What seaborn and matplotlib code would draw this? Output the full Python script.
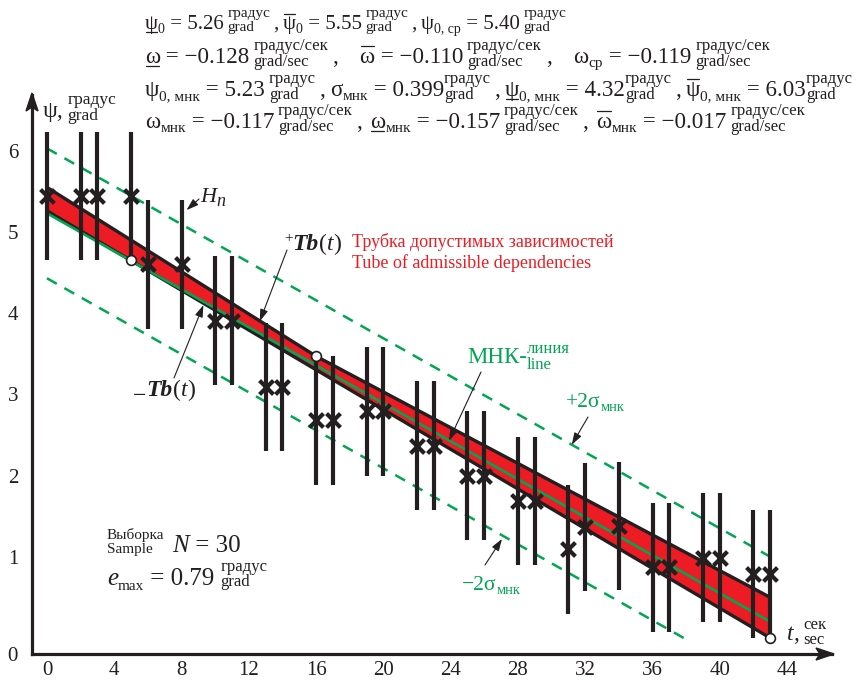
import matplotlib
matplotlib.use("Agg")
import matplotlib.pyplot as plt
import matplotlib.transforms as mtransforms
from matplotlib.lines import Line2D
from matplotlib.patches import Polygon
import seaborn as sns

# observations: time (sec) and measured angle (grad), interval half-width
t_obs = [0, 2, 3, 5, 6, 8, 10, 11, 13, 14, 16, 17, 19, 20, 22, 23, 25, 26,
         28, 29, 31, 32, 34, 36, 37, 39, 40, 42, 43]
psi_obs = [5.44, 5.44, 5.44, 5.44, 4.60, 4.60, 3.91, 3.91, 3.09, 3.09, 2.68, 2.68,
           2.79, 2.79, 2.37, 2.37, 2.00, 2.00, 1.69, 1.69, 1.09, 1.37, 1.38, 0.87,
           0.87, 0.99, 0.99, 0.79, 0.79]
e_max = 0.79

# tube of admissible dependencies (vertices of upper and lower boundary)
tube_up_t = [0, 16, 43]
tube_up = [5.55, 3.47, 0.50]
tube_lo_t = [0, 43]
tube_lo = [5.26, 0.00]
touch_t = [5, 16, 43]
touch_psi = [4.65, 3.47, 0.00]

# least squares line and +/- 2 sigma lines
mnk_t = [0, 43]
mnk_psi = [5.23, 0.20]
mnk_hi_t = [0, 43]
mnk_hi = [6.03, 1.00]
mnk_lo_t = [0, 38.2]
mnk_lo = [4.43, -0.04]

x_ticks = list(range(0, 45, 4))
y_ticks = [1, 2, 3, 4, 5, 6]

RED = "#ED1C24"
GREEN = "#00A651"
INK = "#231F20"
SERIF = ["Liberation Serif", "DejaVu Serif"]
W, H = 857, 682

sns.set_theme(style="white")
plt.rcParams["font.family"] = SERIF

fig = plt.figure(figsize=(W / 100, H / 100), dpi=100)
ax = fig.add_axes([32 / W, 28 / H, 800 / W, 559 / H])
ax.set_xlim(-0.89, 46.67)
ax.set_ylim(-0.197, 6.687)

# dashed +/- 2 sigma lines
dash = (0, (4.5, 3.5))
ax.plot(mnk_hi_t, mnk_hi, color=GREEN, lw=1.8, linestyle=dash, zorder=2)
ax.plot(mnk_lo_t, mnk_lo, color=GREEN, lw=1.8, linestyle=dash, zorder=2)

# tube
ax.fill(tube_up_t + tube_lo_t[::-1], tube_up + tube_lo[::-1], color=RED, lw=0, zorder=3)
sns.lineplot(x=tube_up_t, y=tube_up, ax=ax, color=INK, lw=2.4, zorder=4)
sns.lineplot(x=tube_lo_t, y=tube_lo, ax=ax, color=INK, lw=2.4, zorder=4)

# least squares line
sns.lineplot(x=mnk_t, y=mnk_psi, ax=ax, color=GREEN, lw=1.9, zorder=5)

# uncertainty intervals and measurements
lo = [p - e_max for p in psi_obs]
hi = [p + e_max for p in psi_obs]
ax.vlines(t_obs, lo, hi, color=INK, lw=3.0, zorder=6)
sns.scatterplot(x=t_obs, y=psi_obs, ax=ax, marker="x", s=100, color=INK,
                linewidth=3.0, zorder=7)
sns.scatterplot(x=touch_t, y=touch_psi, ax=ax, s=50, color="white", edgecolor=INK,
                linewidth=1.2, zorder=8)

# axes
ax.spines[["top", "right"]].set_visible(False)
for s in ("left", "bottom"):
    ax.spines[s].set_linewidth(2.3)
    ax.spines[s].set_color(INK)
ax.set_xticks(x_ticks)
ax.set_yticks([ax.get_ylim()[0]] + y_ticks, labels=["0"] + [str(v) for v in y_ticks])
ax.tick_params(axis="both", direction="inout", length=6, width=1.8, color=INK,
               labelsize=15, labelcolor=INK)
ax.tick_params(axis="y", pad=7)
ax.tick_params(axis="x", pad=2)
ax.grid(False)

IDT = mtransforms.IdentityTransform()
pos = ax.get_position()
x0, y0 = pos.x0 * W, pos.y0 * H
x1, y1 = pos.x1 * W, pos.y1 * H
fig.add_artist(Polygon([[x1 + 2, y0], [x1 - 16, y0 + 6], [x1 - 12, y0], [x1 - 16, y0 - 6]],
                       closed=True, transform=IDT, color=INK))
fig.add_artist(Polygon([[x0, y1 + 2], [x0 - 6, y1 - 16], [x0, y1 - 12], [x0 + 6, y1 - 16]],
                       closed=True, transform=IDT, color=INK))

renderer = fig.canvas.get_renderer()


def put(x, y, s, size, color=INK, dry=False, **kw):
    txt = fig.text(x, H - y, s, transform=IDT, fontsize=size, color=color,
                   family=SERIF, ha="left", va="baseline", **kw)
    w = txt.get_window_extent(renderer).width
    if dry:
        txt.remove()
    return w


def hbar(xa, xb, y, color):
    fig.add_artist(Line2D([xa, xb], [H - y, H - y], transform=IDT, color=color, lw=0.9))


def chain(x, y, parts, fs=15.5, us=11, uo=(-11, 1), color=INK, end=None, dry=False):
    if end is not None:
        # widen the separator gaps so the line ends where the reference line ends
        natural = chain(x, y, parts, fs, us, uo, color, dry=True)
        n_sep = sum(1 for p in parts if p[0] == "s")
        extra = max(end - natural, 0) / max(n_sep, 1)
        parts = [("g", p[1] + extra) if p[0] == "s" else p for p in parts]
    sub_dy = round(fs * 0.27)
    for kind, *a in parts:
        if kind == "m":
            x += put(x, y, a[0], fs, color, dry)
        elif kind == "i":
            x += put(x, y, a[0], fs, color, dry, style="italic")
        elif kind == "bi":
            x += put(x, y, a[0], fs, color, dry, style="italic", weight="bold")
        elif kind in ("g", "s"):
            x += a[0]
        elif kind == "sub":
            x += put(x, y + sub_dy, a[0], us - 1, color, dry)
        elif kind == "isub":
            x += put(x, y + sub_dy, a[0], us, color, dry, style="italic")
        elif kind == "sup":
            x += put(x, y - 8, a[0], us, color, dry)
        elif kind == "lo":
            x += put(x, y + 6, a[0], fs, color, dry)
        elif kind == "u":
            w1 = put(x, y + uo[0], a[0], us, color, dry)
            w2 = put(x, y + uo[1], a[1], us, color, dry)
            x += max(w1, w2)
        elif kind in ("ul", "ol"):
            w = put(x, y, a[0], fs, color, dry)
            if not dry:
                yy = y + 3 if kind == "ul" else y - round(fs * 1.0)
                hbar(x + 1, x + w - 1, yy, color)
            x += w
    return x


G = "градус"
GS = "градус/сек"
SP = 4
TOP = dict(fs=16.6, us=12, uo=(-13, 3))

chain(145, 29, [("ul", "ψ"), ("sub", "0"), ("m", " = 5.26"), ("g", SP), ("u", G, "grad"),
                ("g", 3), ("m", ","), ("g", SP), ("ol", "ψ"), ("sub", "0"), ("m", " = 5.55"),
                ("g", SP), ("u", G, "grad"), ("g", 3), ("m", ","), ("g", SP), ("m", "ψ"),
                ("sub", "0, ср"), ("m", " = 5.40"), ("g", SP), ("u", G, "grad")],
      fs=15, us=11, uo=(-12, 2))
chain(145, 63, [("ul", "ω"), ("m", " = −0.128"), ("g", SP), ("u", GS, "grad/sec"), ("g", 4),
                ("m", ","), ("s", SP), ("ol", "ω"), ("m", " = −0.110"), ("g", SP),
                ("u", GS, "grad/sec"), ("g", 4), ("m", ","), ("s", SP), ("m", "ω"),
                ("sub", "ср"), ("m", " = −0.119"), ("g", SP), ("u", GS, "grad/sec")],
      end=770, **TOP)
chain(145, 96, [("m", "ψ"), ("sub", "0, мнк"), ("m", " = 5.23"), ("g", SP), ("u", G, "grad"),
                ("g", 3), ("m", ","), ("s", SP), ("m", "σ"), ("sub", "мнк"), ("m", " = 0.399"),
                ("u", G, "grad"), ("g", 3), ("m", ","), ("s", SP), ("ul", "ψ"),
                ("sub", "0, мнк"), ("m", " = 4.32"), ("u", G, "grad"), ("g", 3), ("m", ","),
                ("s", SP), ("ol", "ψ"), ("sub", "0, мнк"), ("m", " = 6.03"), ("u", G, "grad")],
      end=853, **TOP)
chain(145, 128, [("m", "ω"), ("sub", "мнк"), ("m", " = −0.117"), ("g", SP), ("u", GS, "grad/sec"),
                 ("g", 3), ("m", ","), ("s", SP), ("ul", "ω"), ("sub", "мнк"), ("m", " = −0.157"),
                 ("g", SP), ("u", GS, "grad/sec"), ("g", 3), ("m", ","), ("s", SP), ("ol", "ω"),
                 ("sub", "мнк"), ("m", " = −0.017"), ("g", SP), ("u", GS, "grad/sec")],
      end=805, **TOP)

# axis captions
chain(43, 117, [("m", "ψ,"), ("g", 4), ("u", G, "grad")], fs=17, us=12.5, uo=(-13, 3))
chain(787, 640, [("i", "t"), ("m", ","), ("g", 4), ("u", "сек", "sec")], fs=17, us=12, uo=(-11, 4))

# sample info
chain(107, 552, [("u", "Выборка", "Sample"), ("g", 8), ("i", "N"), ("m", " = 30")],
      fs=18, us=11, uo=(-13, 1))
chain(107, 585, [("i", "e"), ("sub", "max"), ("m", " = 0.79"), ("g", 6), ("u", G, "grad")],
      fs=18, us=12, uo=(-14, 1))

# tube labels
put(352, 247, "Трубка допустимых зависимостей", 13, RED)
put(352, 268, "Tube of admissible dependencies", 13, RED)
chain(284, 250, [("sup", "+"), ("bi", "Tb"), ("m", "("), ("i", "t"), ("m", ")")], fs=17)
chain(133, 396, [("lo", "−"), ("bi", "Tb"), ("m", "("), ("i", "t"), ("m", ")")], fs=17)
chain(200, 202, [("i", "H"), ("isub", "n")], fs=16, us=13)
chain(467, 363, [("m", "МНК-"), ("u", "линия", "line")], fs=16.5, us=12, uo=(-10, 6), color=GREEN)
chain(566, 407, [("m", "+2σ"), ("sub", "мнк")], fs=15.5, us=11.5, color=GREEN)
chain(462, 590, [("m", "−2σ"), ("sub", "мнк")], fs=15.5, us=11.5, color=GREEN)

# pointer arrows: tail in pixels (from top), tip in data coordinates
arrows = [((199, 199), (8.3, 5.27)),
          ((287, 250), (12.65, 3.90)),
          ((174, 378), (9.3, 4.10)),
          ((481, 372), (23.9, 2.43)),
          ((588, 417), (31.2, 2.38)),
          ((485, 565), (27.05, 1.22))]
for (px, py), tip in arrows:
    ax.annotate("", xy=tip, xycoords="data", xytext=(px, H - py), textcoords=IDT,
                arrowprops=dict(arrowstyle="-|>,head_length=0.6,head_width=0.2",
                                color=INK, lw=0.8, shrinkA=0, shrinkB=0),
                annotation_clip=False, zorder=9)

fig.savefig("out.png", dpi=100)
